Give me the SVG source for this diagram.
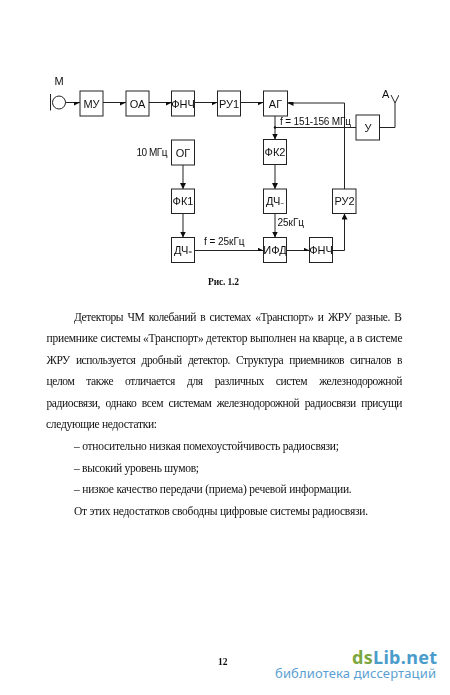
<svg xmlns="http://www.w3.org/2000/svg" width="450" height="695" viewBox="0 0 450 695">
<style>
.b{fill:#fff;stroke:#222;stroke-width:1}
.l{fill:none;stroke:#222;stroke-width:1}
.t{font-family:"Liberation Sans",Arial,sans-serif;font-size:11px;fill:#111;text-anchor:middle}
.s{font-family:"Liberation Sans",Arial,sans-serif;font-size:10px;fill:#111}
.p{font-family:"Liberation Serif","Times New Roman",serif;font-size:11.500px;fill:#111}
</style>
<defs>
<marker id="a" markerUnits="userSpaceOnUse" markerWidth="7" markerHeight="6" refX="6" refY="3" orient="auto"><path d="M0 0L6 3L0 6Z" fill="#111"/></marker>
<filter id="soft" x="0" y="0" width="100%" height="100%"><feGaussianBlur stdDeviation="0.3"/></filter>
</defs>
<rect width="450" height="695" fill="#fff"/>
<g id="nodes" filter="url(#soft)">
<g id="mic"><circle class="l" cx="59" cy="102.5" r="6.5"/><path class="l" d="M50.5 94V110.5"/><text class="s" x="54.500" y="85" style="font-size:11px">М</text></g>
<g id="mu"><rect class="b" x="80" y="91" width="23" height="25"/><text class="t" x="91.5" y="107.500">МУ</text></g>
<g id="oa"><rect class="b" x="126" y="91" width="23" height="25"/><text class="t" x="137.5" y="107.500">ОА</text></g>
<g id="fnch1"><rect class="b" x="171.5" y="91" width="23" height="25"/><text class="t" x="183" y="107.500">ФНЧ</text></g>
<g id="ru1"><rect class="b" x="217.5" y="91" width="23" height="25"/><text class="t" x="229" y="107.500">РУ1</text></g>
<g id="ag"><rect class="b" x="263.5" y="91" width="24" height="25"/><text class="t" x="275.5" y="107.500">АГ</text></g>
<g id="u"><rect class="b" x="356" y="115" width="23.5" height="25"/><text class="t" x="368" y="131.500">У</text></g>
<g id="og"><rect class="b" x="171.5" y="140" width="23" height="25"/><text class="t" x="183" y="156.500">ОГ</text></g>
<g id="fk1"><rect class="b" x="171.5" y="189" width="23" height="24.5"/><text class="t" x="183" y="205">ФК1</text></g>
<g id="dch1"><rect class="b" x="171.5" y="237.500" width="23" height="25"/><text class="t" x="183" y="254">ДЧ<tspan style="font-size:6px">=</tspan></text></g>
<g id="fk2"><rect class="b" x="263.500" y="139.500" width="23" height="25"/><text class="t" x="275" y="156">ФК2</text></g>
<g id="dch2"><rect class="b" x="263.500" y="189" width="23" height="24.500"/><text class="t" x="275" y="205">ДЧ<tspan style="font-size:6px">~</tspan></text></g>
<g id="ifd"><rect class="b" x="263.500" y="237.500" width="23" height="25"/><text class="t" x="275" y="254">ИФД</text></g>
<g id="fnch2"><rect class="b" x="309.500" y="237.500" width="23" height="25"/><text class="t" x="321" y="254">ФНЧ</text></g>
<g id="ru2"><rect class="b" x="332.500" y="189" width="23.500" height="24.500"/><text class="t" x="344.500" y="205">РУ2</text></g>
<g id="ant"><path class="l" d="M391 95L395 103L399 95M395 103V127.500H379.500"/><text class="s" x="382" y="98" style="font-size:11px">А</text></g>
</g>
<g id="connectors" filter="url(#soft)">
<path class="l" marker-end="url(#a)" d="M65.500 102.500H80"/>
<path class="l" marker-end="url(#a)" d="M103 102.500H126"/>
<path class="l" marker-end="url(#a)" d="M149 102.500H172"/>
<path class="l" marker-end="url(#a)" d="M194.500 102.500H217.500"/>
<path class="l" marker-end="url(#a)" d="M240.500 102.500H263.500"/>
<path class="l" marker-end="url(#a)" d="M275 116V139.500"/>
<path class="l" d="M275 127.500H356"/>
<circle cx="275" cy="127.500" r="1.200" fill="#111"/>
<path class="l" marker-end="url(#a)" d="M344.500 189V103H287.500"/>
<path class="l" marker-end="url(#a)" d="M183 165V189"/>
<path class="l" marker-end="url(#a)" d="M183 213.500V237.500"/>
<path class="l" marker-end="url(#a)" d="M275 164.500V189"/>
<path class="l" marker-end="url(#a)" d="M275 213.500V237.500"/>
<path class="l" marker-end="url(#a)" d="M194.500 250.500H263.500"/>
<path class="l" marker-end="url(#a)" d="M286.500 250.500H309.500"/>
<path class="l" marker-end="url(#a)" d="M332.500 250.500H344.500V213.500"/>
</g>
<g id="labels" filter="url(#soft)">
<text class="s" x="280" y="125" textLength="71">f = 151-156 МГц</text>
<text class="s" x="136.500" y="155.500" textLength="31">10 МГц</text>
<text class="s" x="204" y="245" textLength="40.500">f = 25кГц</text>
<text class="s" x="277.500" y="226" textLength="26.500">25кГц</text>
<text class="p" x="208" y="285" font-weight="bold" style="font-size:9.500px" textLength="31">Рис. 1.2</text>
</g>
<g id="page-text" filter="url(#soft)">
<text class="p" x="74" y="320.500" textLength="328" word-spacing="1.800">Детекторы ЧМ колебаний в системах «Транспорт» и ЖРУ разные. В</text>
<text class="p" x="46.500" y="342" textLength="356">приемнике системы «Транспорт» детектор выполнен на кварце, а в системе</text>
<text class="p" x="46.500" y="363.500" textLength="356" word-spacing="3.600">ЖРУ используется дробный детектор. Структура приемников сигналов в</text>
<text class="p" x="46.500" y="385" textLength="356" word-spacing="9.500">целом также отличается для различных систем железнодорожной</text>
<text class="p" x="46.500" y="406.500" textLength="356" word-spacing="3">радиосвязи, однако всем системам железнодорожной радиосвязи присущи</text>
<text class="p" x="46" y="428.300" textLength="111">следующие недостатки:</text>
<text class="p" x="74" y="450" textLength="265">– относительно низкая помехоустойчивость радиосвязи;</text>
<text class="p" x="74" y="471.500" textLength="125">– высокий уровень шумов;</text>
<text class="p" x="74" y="493" textLength="277.700">– низкое качество передачи (приема) речевой информации.</text>
<text class="p" x="74" y="514.500" textLength="294">От этих недостатков свободны цифровые системы радиосвязи.</text>
<text class="p" x="218" y="665" font-weight="bold" style="font-size:9.500px">12</text>
</g>
<g id="watermark">
<text x="352" y="664" style="font-family:'Noto Sans',sans-serif;font-size:18px;font-weight:700" textLength="85"><tspan fill="#7ba640">ds</tspan><tspan fill="#4a9ccb">Lib.net</tspan></text>
<text x="275" y="678" style="font-family:'Noto Sans',sans-serif;font-size:13px" fill="#5a9fd2" textLength="161">библиотека диссертаций</text>
</g>
</svg>
